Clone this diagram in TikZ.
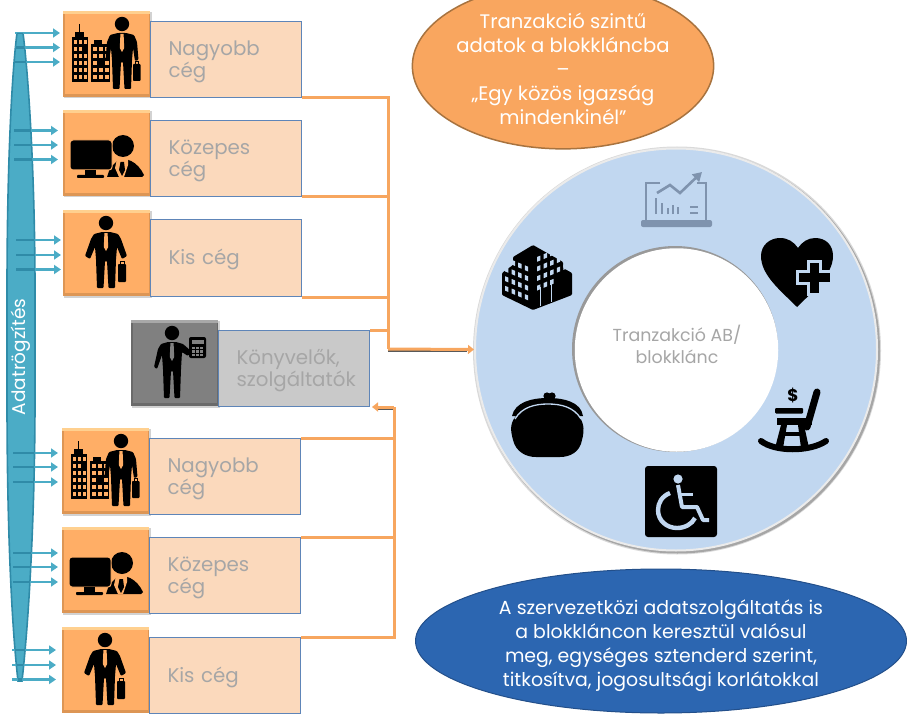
\documentclass[tikz,border=0pt]{standalone}
\usepackage{fontspec}
\setmainfont{Poppins}
\usetikzlibrary{arrows.meta,shapes.geometric}
\definecolor{sqor}{HTML}{FFAE66}
\definecolor{sqorlt}{HTML}{FFD08F}
\definecolor{sqordk}{HTML}{DD9655}
\definecolor{sqgr}{HTML}{808080}
\definecolor{sqgrlt}{HTML}{A8A8A8}
\definecolor{sqgrdk}{HTML}{6A6A6A}
\definecolor{boxor}{HTML}{FBD9BC}
\definecolor{boxgr}{HTML}{C9C9C9}
\definecolor{boxline}{HTML}{5E85B8}
\definecolor{txt}{HTML}{A6A6A6}
\definecolor{conn}{HTML}{F7A65F}
\definecolor{teal}{HTML}{4BACC6}
\definecolor{tealdk}{HTML}{2F8BA8}
\definecolor{ringc}{HTML}{C1D7F0}
\definecolor{lap}{HTML}{7F93AE}
\definecolor{ellor}{HTML}{F9A65F}
\definecolor{ellorl}{HTML}{A8733F}
\definecolor{ellbl}{HTML}{2C66B1}
\definecolor{ellbll}{HTML}{234F8A}
\tikzset{
 bevelbox/.style n args={3}{anchor=north west,minimum width=87pt,minimum height=86pt,inner sep=0pt,fill=#1,
   path picture={
    \fill[#3] ([yshift=3pt]path picture bounding box.south west) rectangle (path picture bounding box.south east);
    \fill[#3] (path picture bounding box.south west) rectangle ([xshift=1.5pt]path picture bounding box.north west);
    \fill[#3] ([xshift=-1.5pt]path picture bounding box.south east) rectangle (path picture bounding box.north east);
    \fill[#2] (path picture bounding box.north west) rectangle ([yshift=-3pt]path picture bounding box.north east);
   }},
 orsq/.style={bevelbox={sqor}{sqorlt}{sqordk}},
 grsq/.style={bevelbox={sqgr}{sqgrlt}{sqgrdk}},
 lbox/.style={anchor=north west,minimum width=151pt,minimum height=76pt,text width=115pt,inner xsep=18pt,inner ysep=0pt,
   align=left,draw=boxline,line width=1pt,text=txt,font=\fontsize{19.8}{22}\selectfont,
   execute at begin node=\rule{0pt}{19pt}},
 orbox/.style={lbox,fill=boxor},
 grbox/.style={lbox,fill=boxgr},
 feed/.style={draw=teal,line width=2.5pt,-{Triangle[length=7pt,width=9pt]}},
 link/.style={draw=conn,line width=3pt},
 linktip/.style={link,-{Triangle[length=6pt,width=9pt]}},
 linkshadow/.style={draw=black!65,line width=2pt},
 ell/.style={ellipse,inner sep=0pt,align=center},
 personicon/.pic={
  \fill[black] (0,0) circle[radius=7.2pt];
  \fill[black,rounded corners=1pt] (-4,9)--(4,9)--(12,11)--(15,16)--(21,33)--(16,36)--(11,24)--(10,36)--(9,65)--(2.5,65)--(1,38)--(-1,38)--(-2.5,65)--(-9,65)--(-10,36)--(-11,24)--(-16,36)--(-21,33)--(-15,16)--(-12,11)--cycle;
  \fill[#1] (-1.6,10)--(1.6,10)--(2.2,24)--(0,28)--(-2.2,24)--cycle;
  \fill[black,rounded corners=.8pt] (12,41) rectangle (20,59);
  \draw[black,line width=.8pt] (14,41)--(14,38)--(18,38)--(18,41);
 },
 bossicon/.pic={
  \fill[black] (0,0) circle[radius=7.2pt];
  \fill[black,rounded corners=1pt] (-4,9)--(4,9)--(12,11)--(15,18)--(16.5,36)--(13,37)--(11,24)--(10,36)--(9,65)--(2.5,65)--(1,38)--(-1,38)--(-2.5,65)--(-9,65)--(-10,36)--(-11,24)--(-13,37)--(-16.5,36)--(-15,18)--(-12,11)--cycle;
  \fill[#1] (-1.6,10)--(1.6,10)--(2.2,24)--(0,28)--(-2.2,24)--cycle;
  \fill[black,rounded corners=.8pt] (11,40) rectangle (18.5,57);
  \draw[black,line width=.8pt] (13,40)--(13,37)--(16.5,37)--(16.5,40);
 },
 cityicon/.pic={
  \fill[black] (0,-45) rectangle (16,0);
  \fill[black] (3,-50) rectangle (12,-45);
  \draw[black,line width=.8pt] (7.5,-58)--(7.5,-50);
  \fill[black] (19,-38) rectangle (38,0);
  \fill[black] (22,-42) rectangle (30,-38);
  \foreach \c in {0,1,2} \foreach \r in {0,...,5}{
    \ifnum\numexpr\c*2+\r*3\relax=7\else
    \fill[sqor] (1.8+5*\c,-42+7*\r) rectangle +(3.2,4.2);\fi}
  \foreach \c in {0,1,2} \foreach \r in {0,...,4}{
    \ifnum\numexpr\c+\r*2\relax=5\else
    \fill[sqor] (21+6*\c,-35+7*\r) rectangle +(3.6,4.2);\fi}
 },
 deskicon/.pic={
  \fill[black] (53,6) circle[radius=11pt];
  \fill[black] (37,37) -- (40,28) -- (46,22) .. controls (55,15) and (68,22) .. (74,35) -- (72,37) -- cycle;
  \fill[sqor] (47,19)--(58,19)--(58,25)--(54,37)--(49,37)--(45,28)--cycle;
  \fill[black] (50.5,22)--(54,22)--(55,30)--(52,36)--(49,30)--cycle;
  \fill[black,draw=sqor,line width=1pt,rounded corners=3pt] (0,0) rectangle (42,30);
  \fill[black] (15,30) rectangle (26,35);
  \fill[black,rounded corners=.8pt] (7,35) rectangle (34,38);
 }
}
\begin{document}
\begin{tikzpicture}[x=1pt,y=-1pt]
\useasboundingbox (0,0) rectangle (907,714);
% left column
\fill[gray!35] (64,12) rectangle (151.5,98.5);
\node[orsq] (s1) at (63,11) {};
\node[orbox] (b1) at (150,21) {Nagyobb\\cég};
\fill[gray!35] (64,111) rectangle (151.5,197.5);
\node[orsq] (s2) at (63,110) {};
\node[orbox] (b2) at (150,120) {Közepes\\cég};
\fill[gray!35] (64,211) rectangle (151.5,297.5);
\node[orsq] (s3) at (63,210) {};
\node[orbox,minimum height=77pt] (b3) at (150,219) {Kis cég};
\fill[gray!35] (132,321) rectangle (219.5,407.5);
\node[grsq] (s4) at (131,320) {};
\node[grbox] (b4) at (218,330) {Könyvelők,\\szolgáltatók};
\fill[gray!35] (63,429) rectangle (150.5,515.5);
\node[orsq] (s5) at (62,428) {};
\node[orbox] (b5) at (149,438) {Nagyobb\\cég};
\fill[gray!35] (63,528) rectangle (150.5,614.5);
\node[orsq] (s6) at (62,527) {};
\node[orbox] (b6) at (149,537) {Közepes\\cég};
\node[orsq] (s7) at (62,627) {};
\node[orbox] (b7) at (149,637) {Kis cég};
% icons in the squares
\pic at (72,82) {cityicon};
\pic at (122,24) {bossicon=sqor};
\pic at (70,140) {deskicon};
\pic at (106,223) {personicon=sqor};
\pic at (71,499) {cityicon};
\pic at (121,441) {bossicon=sqor};
\pic at (69,557) {deskicon};
\pic at (105,640) {personicon=sqor};
% accountant
\fill[black] (172,333) circle[radius=7.2pt];
\fill[black,rounded corners=1pt] (168,342)--(176,342)--(183,344)--(191,351)--(188,356)--(182,352)--(181,369)--(180,398)--(174.5,398)--(173,371)--(171,371)--(169.5,398)--(164,398)--(163,369)--(162,355)--(157,369)--(154,367)--(158,349)--(161,344)--cycle;
\fill[sqgr] (170.4,343)--(173.6,343)--(174.2,357)--(172,361)--(169.8,357)--cycle;
\fill[black,rounded corners=2pt] (189,337) rectangle (206,358);
\fill[sqgr] (191.5,340) rectangle (203.5,344);
\foreach \c in {0,1,2} \foreach \r in {0,1,2}{\fill[sqgr] (192+4.2*\c,346.5+3.6*\r) rectangle +(2.8,2.4);}
% connectors
\coordinate (j1) at (388,349);
\coordinate (j2) at (394,407);
% ring
\fill[black!15] (677,350.5) circle[radius=204pt];
\fill[black!35] (677.5,351) circle[radius=202.5pt];
\node[circle,minimum size=402pt,inner sep=0pt,fill=ringc,draw=black!8,line width=2pt] (ring) at (676,349.5) {};
\fill[black!40] (675,349) circle[radius=103pt];
\node[circle,minimum size=202pt,inner sep=0pt,fill=white,draw=white,line width=1.5pt] (hub) at (676.5,350) {};
\node[inner sep=0pt,align=center,text=txt,font=\fontsize{17.4}{22}\selectfont] (hubtext) at (677,344) {Tranzakció AB/\\blokklánc};
\draw[linkshadow] ([yshift=-1.8pt]j1) -- ([xshift=-7pt,yshift=-1.8pt]ring.west |- j1);
\draw[link] (b1.south east) -| (j1);
\draw[link] (b2.south east) -- (b2.south east -| j1);
\draw[link] (b3.south east) -- (b3.south east -| j1);
\draw[link] (b4.north east) -- (b4.north east -| j1);
\draw[linktip] (j1) -- (ring.west);
\draw[linkshadow] ([yshift=-1.8pt]j2) -- ([xshift=7pt,yshift=-1.8pt]b4.south east |- j2);
\draw[link] (b5.north east) -| (j2);
\draw[link] (b6.north east) -- (b6.north east -| j2);
\draw[link] (b7.north east) -| (j2);
\draw[linktip] (j2) -- ([xshift=2pt]b4.south east |- j2);
% spike
\def\spike{(17,33) .. controls (11,80) and (7,180) .. (7,290) -- (7,400) .. controls (7,500) and (10,610) .. (18,681) -- (22,681) .. controls (30,610) and (35,500) .. (35,400) -- (35,290) .. controls (35,180) and (29,80) .. (23,33) -- cycle}
\fill[teal] \spike;
\draw[tealdk,line width=1.6pt] \spike;
\node[rotate=90,text=white,inner sep=0pt,font=\fontsize{18.5}{22}\selectfont] (spiketext) at (21,357) {Adatrögzítés};
% feed arrows
\foreach \n/\xa/\xb/\yy in {1/15/60/33,2/15/60/47.5,3/15/60/62,4/14/58/130.5,5/14/58/145,6/14/58/159.5,7/16/61/240,8/16/61/255,9/16/61/269.5,10/13/58/453,11/13/58/467,12/13/58/482,13/13/58/553,14/13/58/567,15/13/58/582,16/12/56/650,17/12/56/665,18/12/56/679.5}{
 \coordinate (fa\n) at (\xa,\yy);
 \coordinate (fb\n) at (\xb,\yy);
 \draw[feed] (fa\n) -- (fb\n);
 \begin{scope}\clip \spike; \draw[tealdk,line width=2.2pt] (fa\n) -- (fb\n);\end{scope}
}
% ellipses
\node[ell,fill=ellor,draw=ellorl,line width=1.5pt,minimum width=298pt,minimum height=121pt,text=white,font=\fontsize{19.6}{24}\selectfont] (top) at (563,66) {\rule{0pt}{21pt}Tranzakció szintű\\adatok a blokkláncba\\–\\„Egy közös igazság\\mindenkinél”};
\node[ell,fill=ellbl,draw=ellbll,line width=1pt,minimum width=491pt,minimum height=144pt,text=white,font=\fontsize{18.9}{24}\selectfont] (bot) at (661,641) {\rule{0pt}{24pt}A szervezetközi adatszolgáltatás is\\a blokkláncon keresztül valósul\\meg, egységes sztenderd szerint,\\titkosítva, jogosultsági korlátokkal};
% laptop
\draw[lap,line width=2.2pt] (660,183)--(646,183)--(646,221);
\draw[lap,line width=2.2pt] (697,183)--(706,183)--(706,221);
\fill[lap,rounded corners=2pt] (641,220) rectangle (712,227);
\foreach \x/\t in {656/198,662/203,668/208,673/205,678/207}{\draw[lap,line width=1.8pt] (\x,214)--(\x,\t);}
\draw[lap,line width=1.8pt] (690,207)--(698,207) (690,213)--(698,213);
\draw[lap,line width=2.6pt,-{Triangle[length=9pt,width=10pt]}] (657,193)--(670,185)--(680,193)--(702,172);
% heart
\fill[black] (797,307) .. controls (780,290) and (761,275) .. (761,256) .. controls (761,245) and (770,238) .. (780,238) .. controls (788,238) and (794,242) .. (798,248) .. controls (802,242) and (808,238) .. (815,238) .. controls (826,238) and (833,245) .. (833,256) .. controls (833,275) and (812,292) .. (797,307) -- cycle;
\fill[ringc] (809,298) rectangle (836,288);
\fill[black,draw=ringc,line width=3pt] (808,261)--(820,261)--(820,271.5)--(831,271.5)--(831,283.5)--(820,283.5)--(820,294)--(808,294)--(808,283.5)--(797,283.5)--(797,271.5)--(808,271.5)--cycle;
% office building
\fill[black,rounded corners=1pt] (533,245)--(563,262)--(563,268)--(572,273)--(572,295)--(533,310)--(502,295)--(502,273)--(513,265)--(513,257)--cycle;
\foreach \c in {0,1,2,3}\foreach \r in {0,1,2,3}{
 \pgfmathsetmacro\xx{505+6.6*\c}
 \pgfmathsetmacro\yy{257+9.6*\r+(\xx-505)*0.42}
 \ifnum\numexpr\c+\r\relax=0\else
 \fill[ringc] (\xx,\yy)--+(3.4,1.4)--+(3.4,6.2)--+(0,4.8)--cycle;\fi}
\foreach \c in {0,1,2,3,4}\foreach \r in {0,1,2,3}{
 \pgfmathsetmacro\xx{537+6.6*\c}
 \pgfmathsetmacro\yy{257+9.6*\r-(\xx-537)*0.42}
 \ifnum\numexpr\r*10+\c\relax>32\else
 \ifnum\numexpr\r*10+\c\relax=4\else
 \fill[ringc] (\xx,\yy)--+(3.4,-1.4)--+(3.4,3.4)--+(0,4.8)--cycle;\fi\fi}
\draw[ringc,line width=1pt] (540,287)--(540,306) (551,283)--(551,302);
% purse
\fill[black] (512,416) .. controls (515,402) and (532,398) .. (548,398) .. controls (564,398) and (581,402) .. (583,416) -- cycle;
\fill[black] (547,396) circle[radius=3.6pt] (552,396) circle[radius=3.6pt];
\fill[black] (516,416) .. controls (508,425) and (512,435) .. (513,440) .. controls (516,452) and (526,457) .. (536,457) -- (560,457) .. controls (570,457) and (580,452) .. (582,440) .. controls (584,432) and (585,425) .. (579,416) -- cycle;
\draw[ringc,line width=1.3pt] (515,419) .. controls (522,407) and (535,404) .. (548,404) .. controls (561,404) and (574,407) .. (581,419);
% rocking chair
\draw[black,line width=6pt,line cap=round] (761,441) .. controls (775,452) and (810,452) .. (826,441);
\draw[black,line width=7pt,line cap=round] (817,392)--(807,427);
\fill[black,rounded corners=1pt] (775,408) rectangle (803,413.5);
\fill[black] (777,418) rectangle (812,425);
\fill[black] (781,425)--(787,425)--(783,448)--(775,448)--cycle;
\fill[black] (798,425)--(804,425)--(809,448)--(801,448)--cycle;
\fill[black] (785,432) rectangle (801,436);
\node[inner sep=0pt,font=\bfseries\fontsize{17}{17}\selectfont,text=black] (dollar) at (793,396) {\$};
% wheelchair
\fill[black,rounded corners=3pt] (645,466) rectangle (717,537);
\fill[ringc] (678,479) circle[radius=4.6pt];
\draw[ringc,line width=4pt,line join=round] (678,485)--(682,507)--(697,507)--(703,520)--(709,520);
\draw[ringc,line width=3pt] (680,494)--(693,494);
\draw[ringc,line width=4.4pt] (670,493) .. controls (662,496) and (658,503) .. (658,510) .. controls (658,521) and (667,528) .. (677,528) .. controls (685,528) and (692,524) .. (695,518);
\end{tikzpicture}
\end{document}
